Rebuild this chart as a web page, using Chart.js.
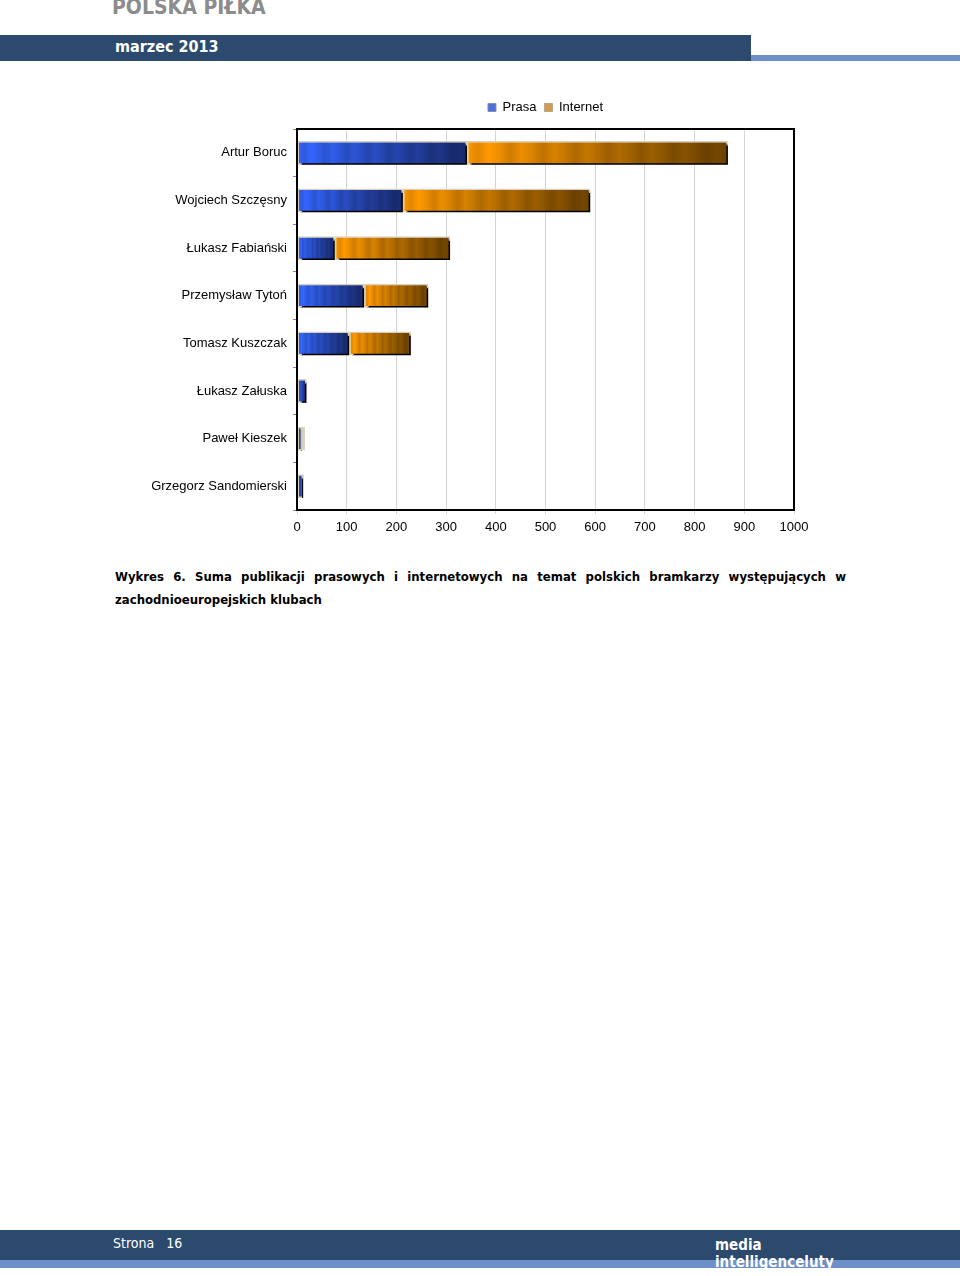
<!DOCTYPE html>
<html>
<head>
<meta charset="utf-8">
<script src="https://cdn.jsdelivr.net/npm/chart.js@4.4.0/dist/chart.umd.min.js"></script>
<style>
    body { margin: 0; width: 960px; height: 1276px; background: #fff; position: relative; overflow: hidden; }
    .abs { position: absolute; }
    #title { left: 112px; top: -5px; font: bold 21px "DejaVu Sans Condensed", "DejaVu Sans", sans-serif; color: #8c8c8c; }
    #topBand { left: 0; top: 35px; width: 751px; height: 26px; background: #2b4a6e; }
    #topStrip { left: 751px; top: 55px; width: 209px; height: 6px; background: #6d90c8; }
    #month { left: 115px; top: 37px; font: bold 16px "DejaVu Sans Condensed", "DejaVu Sans", sans-serif; color: #fff; }
    #chartBox { left: 0; top: 93px; width: 960px; height: 447px; }
    #caption { left: 115px; top: 565px; width: 731px; font: bold 13px "DejaVu Sans Condensed", "DejaVu Sans", sans-serif; line-height: 23px; text-align: justify; color: #000; }
    #footBand { left: 0; top: 1230px; width: 960px; height: 30px; background: #2b4a6e; }
    #footStrip { left: 0; top: 1260px; width: 960px; height: 8px; background: #6d90c8; }
    #page { left: 113px; top: 1235px; font: 14px "DejaVu Sans Condensed", "DejaVu Sans", sans-serif; color: #fff; white-space: pre; }
    #brand { left: 715px; top: 1237px; font: bold 15px "DejaVu Sans Condensed", "DejaVu Sans", sans-serif; color: #fff; line-height: 17px; }
</style>
</head>
<body>
<div class="abs" id="title">POLSKA PIŁKA</div>
<div class="abs" id="topBand"></div>
<div class="abs" id="topStrip"></div>
<div class="abs" id="month">marzec 2013</div>

<div class="abs" id="chartBox"><canvas id="goalkeepersChart"></canvas></div>

<div class="abs" id="caption">Wykres 6. Suma publikacji prasowych i internetowych na temat polskich bramkarzy występujących w zachodnioeuropejskich klubach</div>

<div class="abs" id="footBand"></div>
<div class="abs" id="footStrip"></div>
<div class="abs" id="page">Strona   16</div>
<div class="abs" id="brand">media<br>intelligenceluty</div>

<script>
const players = [
    'Artur Boruc',
    'Wojciech Szczęsny',
    'Łukasz Fabiański',
    'Przemysław Tytoń',
    'Tomasz Kuszczak',
    'Łukasz Załuska',
    'Paweł Kieszek',
    'Grzegorz Sandomierski'
];
const prasa = [342, 213, 76, 135, 105, 19, 10, 12];
const internet = [525, 377, 232, 129, 124, 1, 6, 2];
const xTicks = [0, 100, 200, 300, 400, 500, 600, 700, 800, 900, 1000];

const blueFrom = [51, 102, 255];
const blueTo = [24, 40, 104];
const orangeFrom = [255, 153, 0];
const orangeTo = [104, 64, 0];

// striped horizontal gradient like the old Excel texture fill
function stripedGradient(chart, x0, x1, from, to) {
    const g = chart.ctx.createLinearGradient(x0, 0, Math.max(x1, x0 + 1), 0);
    const steps = 24;
    for (let k = 0; k <= steps; k++) {
        const t = k / steps;
        const shade = (k % 3 === 1) ? 0.9 : (k % 3 === 2 ? 1.05 : 1);
        const c = from.map((v, i) => Math.min(255, Math.round((v + (to[i] - v) * t) * shade)));
        g.addColorStop(t, `rgb(${c[0]}, ${c[1]}, ${c[2]})`);
    }
    return g;
}

function barFill(from, to, startOf, endOf) {
    return (ctx) => {
        const chart = ctx.chart;
        if (!chart.chartArea || ctx.dataIndex === undefined) return `rgb(${from.join(',')})`;
        const x = chart.scales.x;
        const i = ctx.dataIndex;
        return stripedGradient(chart, x.getPixelForValue(startOf(i)), x.getPixelForValue(endOf(i)), from, to);
    };
}

const frameAndShadow = {
    id: 'frameAndShadow',
    afterInit(chart) {
        // a bit more room between the legend and the plot frame
        const legend = chart.legend;
        if (legend) {
            const fit = legend.fit.bind(legend);
            legend.fit = function () { fit(); this.height += 5; };
        }
    },
    beforeDatasetsDraw(chart) {
        const c = chart.ctx;
        c.save();
        c.shadowColor = '#000';
        c.shadowBlur = 0;
        c.shadowOffsetX = 3;
        c.shadowOffsetY = 3;
    },
    afterDatasetsDraw(chart) {
        chart.ctx.restore();
        const { left, top, width, height } = chart.chartArea;
        const c = chart.ctx;
        c.save();
        c.strokeStyle = '#000';
        c.lineWidth = 2;
        c.strokeRect(left, top, width, height);
        c.restore();
    }
};

Chart.defaults.font.family = '"Liberation Sans", Arial, sans-serif';
Chart.defaults.font.size = 13;
Chart.defaults.color = '#000';

new Chart(document.getElementById('goalkeepersChart'), {
    type: 'bar',
    data: {
        labels: players,
        datasets: [
            {
                label: 'Prasa',
                data: prasa,
                backgroundColor: barFill(blueFrom, blueTo, () => 0, i => prasa[i]),
                borderColor: '#d8d0bc',
                borderWidth: 1.5,
                borderSkipped: false
            },
            {
                label: 'Internet',
                data: internet,
                backgroundColor: barFill(orangeFrom, orangeTo, i => prasa[i], i => prasa[i] + internet[i]),
                borderColor: '#d8d0bc',
                borderWidth: 1.5,
                borderSkipped: false
            }
        ]
    },
    options: {
        indexAxis: 'y',
        responsive: true,
        maintainAspectRatio: false,
        animation: false,
        categoryPercentage: 1,
        barPercentage: 0.5,
        layout: { padding: { top: 0, right: 166, left: 0, bottom: 0 } },
        plugins: {
            tooltip: { enabled: false },
            legend: {
                position: 'top',
                fullSize: false,
                labels: {
                    boxWidth: 8,
                    boxHeight: 8,
                    padding: 8,
                    generateLabels: () => [
                        { text: 'Prasa', fillStyle: '#4d6fd6', strokeStyle: '#7f8fb8', lineWidth: 1, datasetIndex: 0 },
                        { text: 'Internet', fillStyle: '#d59a4e', strokeStyle: '#b8a58a', lineWidth: 1, datasetIndex: 1 }
                    ]
                }
            }
        },
        scales: {
            x: {
                stacked: true,
                min: 0,
                max: 1000,
                afterBuildTicks: (scale) => { scale.ticks = xTicks.map(v => ({ value: v })); },
                afterFit: (scale) => { scale.height = 30; },
                border: { display: false },
                grid: { color: '#d4d4d4', tickLength: 4 },
                ticks: { padding: 6, callback: (v) => String(v) }
            },
            y: {
                stacked: true,
                afterFit: (scale) => { scale.width = 297; },
                border: { display: false },
                grid: { drawOnChartArea: false, color: '#888', tickLength: 4, offset: true },
                ticks: { padding: 6 }
            }
        }
    },
    plugins: [frameAndShadow]
});
</script>
</body>
</html>
